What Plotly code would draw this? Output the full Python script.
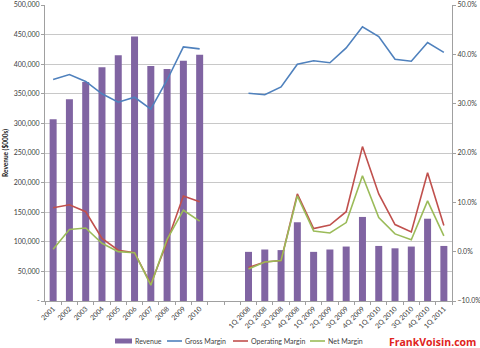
import plotly.graph_objects as go

annual = ["2001", "2002", "2003", "2004", "2005", "2006", "2007", "2008", "2009", "2010"]
spacers = [" ", "  "]
quarters = ["1Q 2008", "2Q 2008", "3Q 2008", "4Q 2008", "1Q 2009", "2Q 2009", "3Q 2009",
            "4Q 2009", "1Q 2010", "2Q 2010", "3Q 2010", "4Q 2010", "1Q 2011"]

rev_annual = [307000, 341000, 370000, 395000, 415000, 447000, 397000, 392000, 406000, 416000]
rev_quarter = [83000, 87000, 86000, 133000, 83000, 87000, 92000, 142000, 93000, 89000, 92000, 139000, 93000]

gross_annual = [0.349, 0.359, 0.345, 0.320, 0.303, 0.313, 0.289, 0.348, 0.415, 0.411]
gross_quarter = [0.321, 0.318, 0.334, 0.380, 0.387, 0.383, 0.413, 0.456, 0.436, 0.390, 0.386, 0.424, 0.404]

op_annual = [0.089, 0.095, 0.081, 0.027, 0.003, -0.002, -0.066, 0.020, 0.113, 0.101]
op_quarter = [-0.032, -0.021, -0.018, 0.117, 0.047, 0.054, 0.081, 0.213, 0.117, 0.055, 0.040, 0.160, 0.053]

net_annual = [0.005, 0.045, 0.048, 0.017, 0.000, -0.002, -0.068, 0.025, 0.084, 0.062]
net_quarter = [-0.035, -0.021, -0.018, 0.113, 0.042, 0.038, 0.059, 0.154, 0.069, 0.036, 0.024, 0.103, 0.032]

left_ticks = [0, 50000, 100000, 150000, 200000, 250000, 300000, 350000, 400000, 450000, 500000]
left_ticktext = ["-", "50,000", "100,000", "150,000", "200,000", "250,000", "300,000",
                 "350,000", "400,000", "450,000", "500,000"]

legend_names = ["Revenue", "Gross Margin", "Operating Margin", "Net Margin"]

categories = annual + spacers + quarters
revenue = rev_annual + [None, None] + rev_quarter

C_REV = "#8064A2"
C_GROSS = "#4F81BD"
C_OP = "#C0504D"
C_NET = "#9BBB59"
FONT = "Lato"

W, H = 480, 348
ML, MR, MT, MB = 45, 28, 5, 47
PW, PH = W - ML - MR, H - MT - MB


def px(xp):
    return (xp - ML) / PW


def py(yp):
    return (H - MB - yp) / PH


fig = go.Figure()
fig.add_trace(go.Bar(x=categories, y=revenue, name=legend_names[0], marker_color=C_REV,
                     marker_line_width=0))

series = [(legend_names[1], C_GROSS, gross_annual, gross_quarter),
          (legend_names[2], C_OP, op_annual, op_quarter),
          (legend_names[3], C_NET, net_annual, net_quarter)]
for name, color, a, q in series:
    fig.add_trace(go.Scatter(x=annual, y=a, name=name, mode="lines", yaxis="y2",
                             line=dict(color=color, width=1.6)))
    fig.add_trace(go.Scatter(x=quarters, y=q, name=name, mode="lines", yaxis="y2",
                             line=dict(color=color, width=1.6)))

# custom legend (compact, Excel-like)
ly = 341
LEG_FONT = dict(size=7, color="#404040")
shapes = [dict(type="rect", xref="paper", yref="paper", x0=px(115), x1=px(132),
               y0=py(ly + 2.5), y1=py(ly - 2.5), fillcolor=C_REV, line_width=0)]
annotations = [dict(text=legend_names[0], xref="paper", yref="paper", x=px(133), y=py(ly),
                    xanchor="left", yanchor="middle", showarrow=False, font=LEG_FONT)]
line_starts = [(167, 183), (233, 249), (310, 326)]
for (name, color, _, _), (s0, t0) in zip(series, line_starts):
    shapes.append(dict(type="line", xref="paper", yref="paper", x0=px(s0), x1=px(s0 + 15),
                       y0=py(ly), y1=py(ly), line=dict(color=color, width=1.6)))
    annotations.append(dict(text=name, xref="paper", yref="paper", x=px(t0), y=py(ly),
                            xanchor="left", yanchor="middle", showarrow=False, font=LEG_FONT))
annotations.append(dict(text="<b>FrankVoisin.com</b>", xref="paper", yref="paper",
                        x=px(478), y=py(342), xanchor="right", yanchor="middle", showarrow=False,
                        font=dict(family="Open Sans", size=10.5, color="#E0231C")))

fig.update_layout(
    width=W, height=H,
    margin=dict(l=ML, r=MR, t=MT, b=MB),
    paper_bgcolor="white", plot_bgcolor="white",
    font=dict(family=FONT, size=7, color="#404040"),
    bargap=0.57,
    showlegend=False,
    xaxis=dict(type="category", categoryorder="array", categoryarray=categories,
               tickangle=-45, tickson="boundaries", ticks="outside", ticklen=3,
               tickcolor="#a0a0a0", showline=True, linecolor="#a0a0a0", linewidth=1,
               showgrid=False, automargin=False, tickfont=dict(size=7, color="#404040")),
    yaxis=dict(range=[0, 500000], tickvals=left_ticks, ticktext=left_ticktext,
               showgrid=True, gridcolor="#c8c8c8", gridwidth=1,
               showline=True, linecolor="#a0a0a0", ticks="outside", ticklen=3,
               tickcolor="#a0a0a0", zeroline=False, automargin=False,
               tickfont=dict(size=7, color="#404040"),
               title=dict(text="<b>Revenue ($000s)</b>", font=dict(size=6.5, color="#202020"),
                          standoff=4)),
    yaxis2=dict(range=[-0.10, 0.50], dtick=0.10, tick0=-0.10, tickformat=".1%",
                overlaying="y", side="right", showgrid=False, zeroline=False,
                showline=True, linecolor="#a0a0a0", ticks="outside", ticklen=3,
                tickcolor="#a0a0a0", automargin=False,
                tickfont=dict(size=7, color="#404040")),
    shapes=shapes,
    annotations=annotations,
)

fig.write_html("out.html")
